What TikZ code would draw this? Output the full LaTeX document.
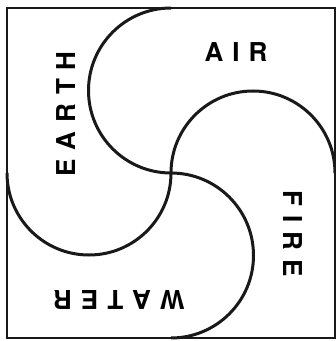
\documentclass[tikz,border=0pt]{standalone}
\usepackage{fontspec}
\setsansfont{TeX Gyre Heros}
\usetikzlibrary{positioning}
\newcommand{\lsp}{\kern 9pt}

\begin{document}
\begin{tikzpicture}[x=1pt, y=1pt,
      word/.style={font=\sffamily\bfseries\fontsize{26}{26}\selectfont, inner sep=0pt},
      frame/.style={draw=black!90, line width=2pt},
      swirl/.style={draw=black!90, line width=3pt}]
    \useasboundingbox (0,0) rectangle (336,341);
    \draw[frame] (7,3) rectangle (335,333);
    \coordinate (O) at (171,168);
    % four half circles meeting in the middle
    \draw[swirl] (O) arc[start angle=-90, end angle=-270, radius=82.5];
    \draw[swirl] (O) arc[start angle=90, end angle=-90, radius=82.5];
    \draw[swirl] (O) arc[start angle=0, end angle=-180, radius=82];
    \draw[swirl] (O) arc[start angle=180, end angle=0, radius=82];
    \node[word, rotate=90]  (earth) at (66,227)  {E\lsp A\lsp R\lsp T\lsp H};
    \node[word]             (air)   at (236,289) {A\lsp I\lsp R};
    \node[word, rotate=-90] (fire)  at (293,107) {F\lsp I\lsp R\lsp E};
    \node[word, rotate=180] (water) at (119,41)  {W\lsp A\lsp T\lsp E\lsp R};
  \end{tikzpicture}
\end{document}
